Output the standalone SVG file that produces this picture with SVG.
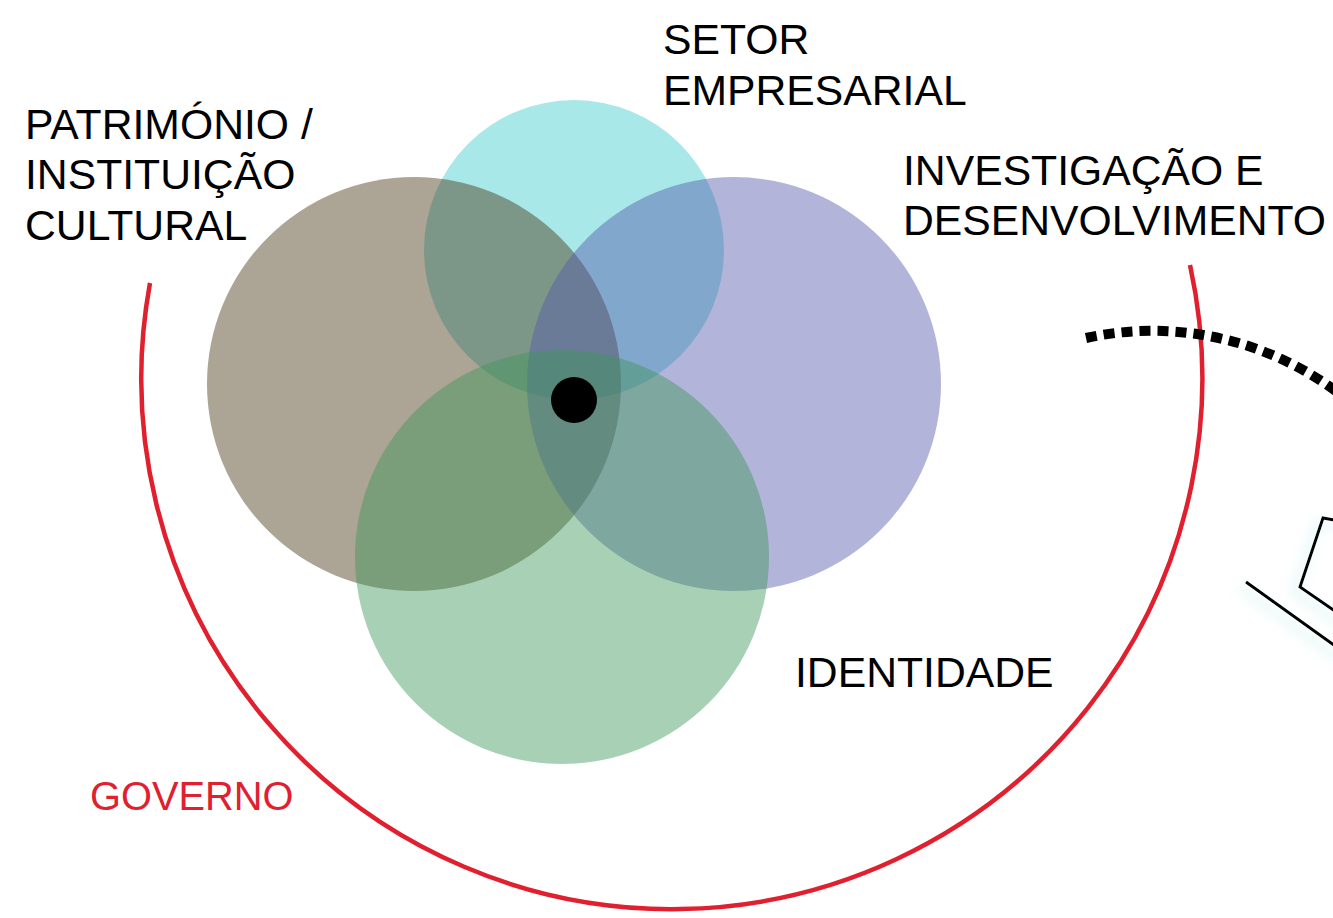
<svg xmlns="http://www.w3.org/2000/svg" width="1333" height="918" viewBox="0 0 1333 918">
<style>
.lbl{font-family:"Liberation Sans",Arial,sans-serif;font-size:42.7px;fill:#000}
.gov{font-family:"Liberation Sans",Arial,sans-serif;font-size:39.8px;fill:#e0202e}
.c{opacity:0.45}
</style>
<defs>
<filter id="glow" x="-50%" y="-50%" width="200%" height="200%">
<feGaussianBlur in="SourceAlpha" stdDeviation="6" result="b"/>
<feOffset in="b" dx="-6" dy="6" result="o"/>
<feFlood flood-color="#9fe0dc" flood-opacity="0.6"/>
<feComposite in2="o" operator="in" result="s"/>
<feMerge><feMergeNode in="s"/><feMergeNode in="SourceGraphic"/></feMerge>
</filter>
</defs>
<rect width="1333" height="918" fill="#fff"/>
<g id="governo-arc">
<path d="M150,283 A530.5,530.5 0 1,0 1190,265" fill="none" stroke="#e0202e" stroke-width="4.5"/>
</g>
<g id="dotted-arc">
<path d="M1086,338 A310,310 0 0,1 1345,398" fill="none" stroke="#000" stroke-width="10" stroke-dasharray="11,7"/>
</g>
<g id="right-shapes" filter="url(#glow)" fill="none" stroke="#000" stroke-width="3">
<polyline points="1345,522 1323,518 1300,587 1345,618"/>
<line x1="1246" y1="582" x2="1345" y2="653"/>
</g>
<g id="setor-empresarial">
<circle class="c" cx="574" cy="250" r="150" fill="#3ecccb"/>
</g>
<g id="patrimonio">
<circle class="c" cx="414" cy="384" r="207" fill="#473511"/>
</g>
<g id="investigacao">
<circle class="c" cx="734" cy="384" r="207" fill="#5458ad"/>
</g>
<g id="identidade">
<circle class="c" cx="562" cy="557" r="207" fill="#3e9758"/>
</g>
<g id="center">
<circle cx="574" cy="400" r="23" fill="#000"/>
</g>
<g id="labels">
<text class="lbl" x="663" y="54">SETOR</text>
<text class="lbl" x="663" y="105">EMPRESARIAL</text>
<text class="lbl" x="25" y="139">PATRIMÓNIO /</text>
<text class="lbl" x="25" y="189">INSTITUIÇÃO</text>
<text class="lbl" x="25" y="240">CULTURAL</text>
<text class="lbl" x="903" y="185">INVESTIGAÇÃO E</text>
<text class="lbl" x="903" y="235">DESENVOLVIMENTO</text>
<text class="lbl" x="795" y="687">IDENTIDADE</text>
<text class="gov" x="90" y="810">GOVERNO</text>
</g>
</svg>
